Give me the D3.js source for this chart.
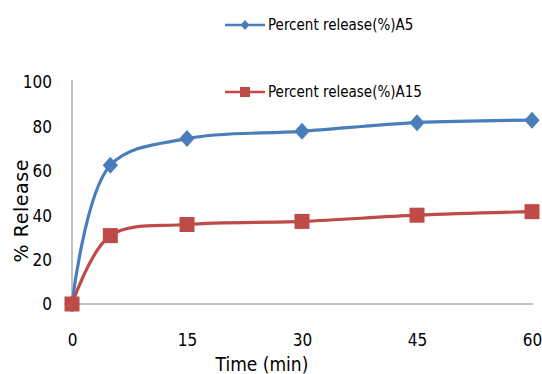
<!DOCTYPE html>
<html>
<head>
<meta charset="utf-8">
<script src="https://cdn.jsdelivr.net/npm/d3@7"></script>
<style>
  html, body { margin: 0; padding: 0; background: #fff; }
  svg { display: block; }
  text { font-family: "Liberation Sans Narrow", "Arial Narrow", "DejaVu Sans Condensed", sans-serif; fill: #000; }
</style>
</head>
<body>
<svg id="chart" width="542" height="374"></svg>
<script>
// Sampling times (min)
const times = [0, 5, 15, 30, 45, 60];
// Cumulative release (%) for each formulation
const releaseA5 = [0, 62.5, 74.5, 77.8, 81.7, 82.8];
const releaseA15 = [0, 30.8, 35.8, 37.2, 40.0, 41.6];
const seriesNames = ["Percent release(%)A5", "Percent release(%)A15"];
const xTicks = [0, 15, 30, 45, 60];
const yTicks = [0, 20, 40, 60, 80, 100];

const svg = d3.select("#chart");
const x = d3.scaleLinear().domain([0, 60]).range([72, 532]);
const y = d3.scaleLinear().domain([0, 100]).range([304, 82]);

const colors = ["#4A7EBB", "#BE4B48"];
const axisColor = "#868686";

// Axis lines
svg.append("line").attr("x1", x(0)).attr("x2", x(0)).attr("y1", y(100) - 2).attr("y2", y(0))
  .attr("stroke", axisColor).attr("stroke-width", 1);
svg.append("line").attr("x1", x(0)).attr("x2", x(60) + 1).attr("y1", y(0)).attr("y2", y(0))
  .attr("stroke", axisColor).attr("stroke-width", 1);

// Y tick labels
const yAxis = d3.axisLeft(y).tickValues(yTicks).tickSize(0).tickPadding(20);
const gy = svg.append("g").attr("transform", `translate(${x(0)},0)`).call(yAxis);
gy.select(".domain").remove();
gy.selectAll("text").style("font-size", "17px").attr("dy", "0.35em");

// X tick labels (placed well below the axis line)
const xAxis = d3.axisBottom(x).tickValues(xTicks).tickSize(0).tickPadding(0);
const gx = svg.append("g").attr("transform", `translate(0,334)`).call(xAxis);
gx.select(".domain").remove();
gx.selectAll("text").style("font-size", "17px").attr("dy", "0.71em");

// Axis titles
svg.append("text").attr("x", 262).attr("y", 371).attr("text-anchor", "middle")
  .style("font-size", "19px").text("Time (min)");
svg.append("text")
  .attr("transform", `translate(28,211) rotate(-90)`)
  .attr("text-anchor", "middle")
  .attr("textLength", 103).attr("lengthAdjust", "spacing")
  .style("font-family", "'DejaVu Sans', sans-serif")
  .style("font-size", "19px").text("% Release");

const line = d3.line().x((d, i) => x(times[i])).y(d => y(d)).curve(d3.curveCatmullRom.alpha(0.5));

function diamond(s) {
  return `M0,${-s}L${s * 0.9},0L0,${s}L${-s * 0.9},0Z`;
}

[releaseA5, releaseA15].forEach((vals, k) => {
  svg.append("path").datum(vals).attr("d", line)
    .attr("fill", "none").attr("stroke", colors[k]).attr("stroke-width", 3.2)
    .attr("stroke-linejoin", "round");
});

// Markers
svg.selectAll(".m5").data(releaseA5).enter().append("path")
  .attr("transform", (d, i) => `translate(${x(times[i])},${y(d)})`)
  .attr("d", diamond(8.5)).attr("fill", colors[0]);
svg.selectAll(".m15").data(releaseA15).enter().append("rect")
  .attr("x", (d, i) => x(times[i]) - 7.5).attr("y", d => y(d) - 7.5)
  .attr("width", 15).attr("height", 15).attr("fill", colors[1]);

// Legend
const legendY = [25, 92];
seriesNames.forEach((name, k) => {
  const g = svg.append("g").attr("transform", `translate(0,${legendY[k]})`);
  g.append("line").attr("x1", 225).attr("x2", 265).attr("y1", 0).attr("y2", 0)
    .attr("stroke", colors[k]).attr("stroke-width", 2.5);
  if (k === 0) {
    g.append("path").attr("transform", "translate(245,0)").attr("d", diamond(5)).attr("fill", colors[k]);
  } else {
    g.append("rect").attr("x", 240).attr("y", -5).attr("width", 10).attr("height", 10).attr("fill", colors[k]);
  }
  g.append("text").attr("x", 268).attr("y", 0).attr("dy", "0.35em")
    .style("font-size", "15px").text(name);
});
</script>
</body>
</html>
